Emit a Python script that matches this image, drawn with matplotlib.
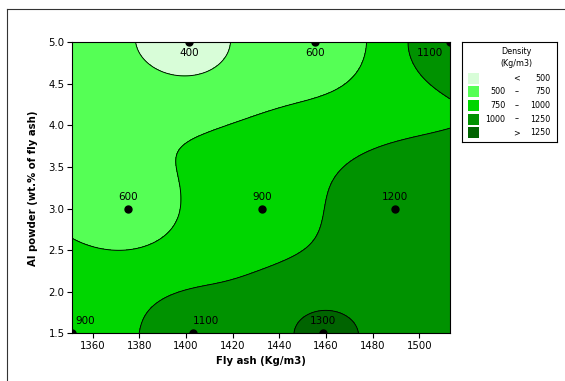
"""Contour plot of foam density vs fly ash content and Al powder dosage.

The nine mix points are interpolated onto a grid with inverse-distance
weighting (power 2, axes scaled to their ranges) -- the same "distance"
mesh a stats package uses for a raw-data contour plot -- then filled
by density band.
"""
import numpy as np
import matplotlib
matplotlib.use("Agg")
import matplotlib.pyplot as plt
from matplotlib.lines import Line2D
from matplotlib.patches import Rectangle

# Mix design points: fly ash (kg/m3), Al powder (wt.% of fly ash), density (kg/m3)
fly_ash = [1351.3, 1402.9, 1458.8, 1375.0, 1432.7, 1489.7, 1401.3, 1455.3, 1513.2]
al_powder = [1.5, 1.5, 1.5, 3.0, 3.0, 3.0, 5.0, 5.0, 5.0]
density = [900, 1100, 1300, 600, 900, 1200, 400, 600, 1100]

# Density bands shown in the legend
band_edges = [500, 750, 1000, 1250]
band_colors = ["#d8fdd8", "#55ff55", "#00d600", "#009200", "#006400"]

x_ticks = [1360, 1380, 1400, 1420, 1440, 1460, 1480, 1500]
y_ticks = [1.5, 2.0, 2.5, 3.0, 3.5, 4.0, 4.5, 5.0]

W, H = 565, 381          # output size, px
FONT = "DejaVu Sans"


def idw_grid(x, y, z, nx=300, ny=300, power=2.0):
    """Inverse-distance-weighted mesh over the data's bounding box."""
    x, y, z = map(np.asarray, (x, y, z))
    gx, gy = np.meshgrid(np.linspace(x.min(), x.max(), nx),
                         np.linspace(y.min(), y.max(), ny))
    sx, sy = np.ptp(x), np.ptp(y)
    d2 = ((gx[..., None] - x) / sx) ** 2 + ((gy[..., None] - y) / sy) ** 2
    w = 1.0 / np.maximum(d2, 1e-12) ** (power / 2.0)
    return gx, gy, (w * z).sum(-1) / w.sum(-1)


def draw_legend(fig):
    # legend box laid out in pixel units (origin top-left of the box)
    lx0, ly0, lx1, ly1 = 462.3, 41.7, 556.7, 142.3
    lax = fig.add_axes([lx0 / W, 1 - ly1 / H, (lx1 - lx0) / W, (ly1 - ly0) / H])
    lax.set_xlim(0, lx1 - lx0)
    lax.set_ylim(ly1 - ly0, 0)
    lax.set_xticks([])
    lax.set_yticks([])
    for s in lax.spines.values():
        s.set_linewidth(0.8)
    kw = dict(fontsize=5.8, family=FONT, va="center")
    lax.text(54.5, 9.5, "Density", ha="center", **kw)
    lax.text(54.5, 21.5, "(Kg/m3)", ha="center", **kw)

    lows = [None] + band_edges
    highs = band_edges + [None]
    for i, (lo, hi, col) in enumerate(zip(lows, highs, band_colors)):
        yc = 36.6 + i * 13.6
        lax.add_patch(Rectangle((5.4, yc - 5.5), 11.3, 11, facecolor=col, edgecolor="none"))
        if lo is None:
            lax.text(54.5, yc, "<", ha="center", **kw)
            lax.text(88.0, yc, f"{hi}", ha="right", **kw)
        elif hi is None:
            lax.text(54.5, yc, ">", ha="center", **kw)
            lax.text(88.0, yc, f"{lo}", ha="right", **kw)
        else:
            lax.text(43.0, yc, f"{lo}", ha="right", **kw)
            lax.text(54.5, yc, "\u2013", ha="center", **kw)
            lax.text(88.0, yc, f"{hi}", ha="right", **kw)


def main():
    plt.rcParams["font.family"] = FONT

    fig = plt.figure(figsize=(W / 100, H / 100), dpi=100)
    ax = fig.add_axes([72.3 / W, 1 - 333.3 / H, (450 - 72.3) / W, (333.3 - 42.3) / H])

    gx, gy, gz = idw_grid(fly_ash, al_powder, density)
    levels = [min(gz.min(), 0)] + band_edges + [max(gz.max(), 2000)]
    ax.contourf(gx, gy, gz, levels=levels, colors=band_colors)
    ax.contour(gx, gy, gz, levels=band_edges, colors="black", linewidths=0.65)

    ax.plot(fly_ash, al_powder, "o", color="black", markersize=5)

    # point labels: kept inside the frame at the edges, below the top row
    x_lo, x_hi = min(fly_ash), max(fly_ash)
    y_hi = max(al_powder)
    for x, y, z in zip(fly_ash, al_powder, density):
        ha, dx = "center", 0
        if x == x_lo:
            ha, dx = "left", 2
        elif x == x_hi:
            ha, dx = "right", -5
        elif y == min(al_powder) and x < 1420:
            ha, dx = "left", 0
        if y == y_hi:
            va, dy = "top", -4
        else:
            va, dy = "bottom", 5
        ax.annotate(f"{z}", (x, y), xytext=(dx, dy), textcoords="offset points",
                    ha=ha, va=va, fontsize=7.5)

    ax.set_xlim(x_lo, x_hi)
    ax.set_ylim(min(al_powder), y_hi)
    ax.set_xticks(x_ticks)
    ax.set_yticks(y_ticks)
    ax.set_yticklabels([f"{v:.1f}" for v in y_ticks])
    ax.tick_params(direction="out", length=3.5, width=0.8, labelsize=7.3, pad=2)
    for s in ax.spines.values():
        s.set_linewidth(0.8)

    ax.set_xlabel("Fly ash (Kg/m3)", fontsize=7.3, fontweight="bold", labelpad=4)
    ax.set_ylabel("Al powder (wt.% of fly ash)", fontsize=7.3, fontweight="bold")
    ax.yaxis.set_label_coords(-0.092, 0.5)

    draw_legend(fig)

    # outer frame of the original graph window (cropped on right/bottom)
    fx, fy = 7.3 / W, 1 - 9.0 / H
    fig.add_artist(Line2D([fx, 1.0], [fy, fy], color="#333333", lw=0.8))
    fig.add_artist(Line2D([fx, fx], [0.0, fy], color="#333333", lw=0.8))

    fig.savefig("out.png", dpi=100)


if __name__ == "__main__":
    main()
